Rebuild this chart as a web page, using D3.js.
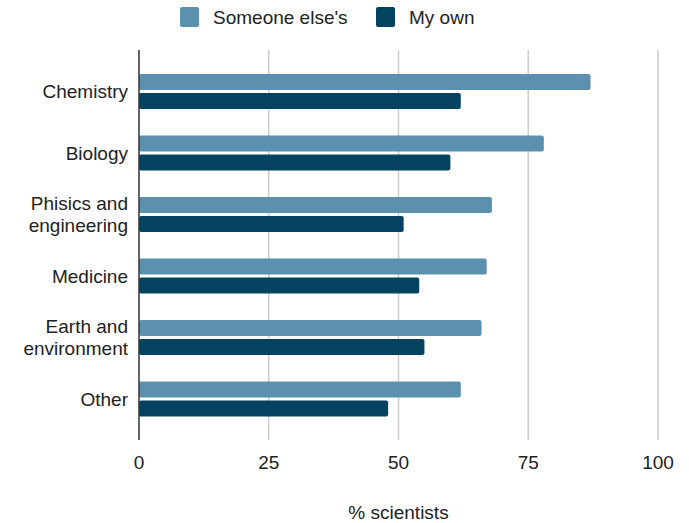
<script src="https://cdnjs.cloudflare.com/ajax/libs/d3/7.8.5/d3.min.js"></script>
<style>
    body { margin: 0; background: #fff; font-family: 'Liberation Sans', Arial, sans-serif; }
</style>
<svg width="689" height="523"></svg>
<script>
    // data
    var categories = ["Chemistry", "Biology", "Phisics and\nengineering", "Medicine", "Earth and\nenvironment", "Other"];
    var seriesNames = ["Someone else's", "My own"];
    var someoneElses = [87, 78, 68, 67, 66, 62];
    var myOwn = [62, 60, 51, 54, 55, 48];
    var xTicks = [0, 25, 50, 75, 100];
    var colors = ["#5b90ae", "#03435f"];

    var svg = d3.select("svg");
    var plotLeft = 139, plotRight = 658, plotTop = 50, plotBottom = 440;
    var fontSize = 19;

    var x = d3.scaleLinear().domain([0, 100]).range([plotLeft, plotRight]);
    var y = d3.scaleBand().domain(categories).range([60.75, 429.75])
        .paddingInner(0.43).paddingOuter(0.215);
    var y1 = d3.scaleBand().domain(seriesNames).range([0, y.bandwidth()])
        .paddingInner(0.158).paddingOuter(0);

    var rows = categories.map(function(c, i) {
        return {cat: c, vals: [someoneElses[i], myOwn[i]]};
    });

    // gridlines
    svg.append("g").selectAll("line")
        .data(xTicks.slice(1))
        .enter().append("line")
        .attr("x1", function(d) { return x(d); })
        .attr("x2", function(d) { return x(d); })
        .attr("y1", plotTop).attr("y2", plotBottom)
        .attr("stroke", "#cccccc").attr("stroke-width", 1.5);

    // bars
    var grp = svg.append("g").selectAll("g")
        .data(rows)
        .enter().append("g")
        .attr("transform", function(d) { return "translate(0," + y(d.cat) + ")"; });
    grp.selectAll("rect")
        .data(function(d) { return d.vals.map(function(v, j) { return {v: v, s: seriesNames[j], j: j}; }); })
        .enter().append("rect")
        .attr("x", x(0))
        .attr("y", function(d) { return y1(d.s); })
        .attr("width", function(d) { return x(d.v) - x(0); })
        .attr("height", y1.bandwidth())
        .attr("rx", 2)
        .attr("fill", function(d) { return colors[d.j]; });

    // y axis line
    svg.append("line")
        .attr("x1", plotLeft).attr("x2", plotLeft)
        .attr("y1", plotTop).attr("y2", plotBottom)
        .attr("stroke", "#333").attr("stroke-width", 1.5);

    // category labels
    var labels = svg.append("g").selectAll("text")
        .data(categories)
        .enter().append("text")
        .attr("text-anchor", "end")
        .attr("font-size", fontSize)
        .attr("fill", "#222");
    labels.each(function(d) {
        var lines = d.split("\n");
        var cy = y(d) + y.bandwidth() / 2;
        var t = d3.select(this);
        lines.forEach(function(l, k) {
            t.append("tspan")
                .attr("x", 128)
                .attr("y", cy + (k - (lines.length - 1) / 2) * 22)
                .attr("dy", "0.35em")
                .text(l);
        });
    });

    // x tick labels
    svg.append("g").selectAll("text")
        .data(xTicks)
        .enter().append("text")
        .attr("x", function(d) { return x(d); })
        .attr("y", 462)
        .attr("dy", "0.35em")
        .attr("text-anchor", "middle")
        .attr("font-size", fontSize)
        .attr("fill", "#222")
        .text(function(d) { return d; });

    svg.append("text")
        .attr("x", (plotLeft + plotRight) / 2)
        .attr("y", 512)
        .attr("dy", "0.35em")
        .attr("text-anchor", "middle")
        .attr("font-size", fontSize)
        .attr("fill", "#222")
        .text("% scientists");

    // legend
    var legendX = [180, 376];
    var lg = svg.append("g").selectAll("g")
        .data(seriesNames)
        .enter().append("g")
        .attr("transform", function(d, i) { return "translate(" + legendX[i] + ",7)"; });
    lg.append("rect")
        .attr("width", 19).attr("height", 20).attr("rx", 2)
        .attr("fill", function(d, i) { return colors[i]; });
    lg.append("text")
        .attr("x", 33).attr("y", 10).attr("dy", "0.35em")
        .attr("font-size", fontSize)
        .attr("fill", "#222")
        .text(function(d) { return d; });
</script>
